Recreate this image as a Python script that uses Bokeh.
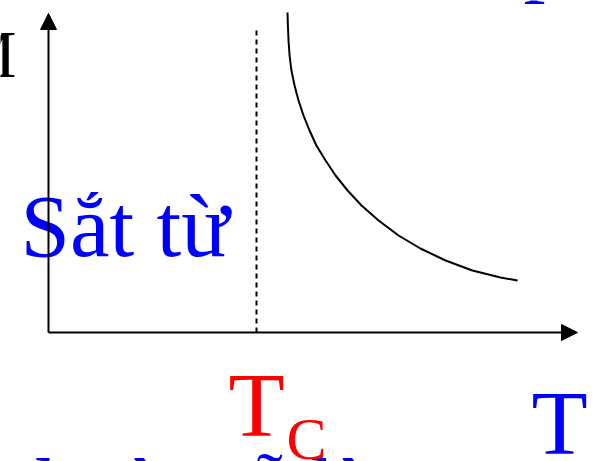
from bokeh.plotting import figure
from bokeh.models import Range1d, Arrow, NormalHead
from bokeh.core.properties import value
from bokeh.embed import file_html
from bokeh.resources import INLINE

# Magnetization M versus temperature T (T in units of the Curie temperature Tc)
Tc = 1.0
T_para = [1.149, 1.151, 1.154, 1.159, 1.168, 1.183, 1.202, 1.226, 1.255, 1.288, 1.332,
          1.380, 1.438, 1.505, 1.587, 1.683, 1.788, 1.909, 2.038, 2.173, 2.255]
M_para = [3.20, 3.07, 2.92, 2.77, 2.62, 2.47, 2.32, 2.17, 2.02, 1.87, 1.72,
          1.57, 1.42, 1.27, 1.12, 0.97, 0.84, 0.72, 0.62, 0.55, 0.52]

# Extent of the drawn axes (arrow tips) and of the dashed Tc marker
T_axis_end = 2.543
M_axis_end = 3.19
Tc_line_top = 3.04

# Texts on the slide
label_M = "M"
label_ferro = "Sắt từ"
label_T = "T"
label_Tc_main = "T"
label_Tc_sub = "C"
label_top = "pha"
label_bottom = "Chu trình từ trễ là"

# canvas geometry: origin of the axes and pixel scale
W, H = 604, 461
OX, OY = 48, 332
SX, SY = 208.0, 100.0
# the svg text anchor sits below the alphabetic baseline by this fraction of the size
BASE_SHIFT = 0.36


def dx(px):
    return (px - OX) / SX


def dy(py):
    return (OY - py) / SY


p = figure(width=W, height=H, x_range=Range1d(dx(0), dx(W)), y_range=Range1d(dy(H), dy(0)),
           output_backend="svg", toolbar_location=None, min_border=0,
           x_axis_type=None, y_axis_type=None)
p.grid.visible = False
p.outline_line_color = None
p.background_fill_color = "white"
p.border_fill_color = "white"

serif = value("Liberation Serif")


def put(text, px, baseline, size, color, align="left"):
    py = baseline - BASE_SHIFT * size
    p.text(x=[dx(px)], y=[dy(py)], text=[text], text_font=serif, text_font_size=f"{size}px",
           text_color=color, text_baseline="alphabetic", text_align=align)


# texts first so the axis lines sit on top of them
put(label_bottom, -256, 522, 88, "#0000FF")
put(label_top, 523, -13, 88, "#0000FF")
put(label_M, 16, 78, 68, "black", align="right")
put(label_ferro, 20, 258, 89, "#0000FF")
put(label_Tc_main, 228, 438, 92, "#FF0000")
put(label_Tc_sub, 286, 460, 60, "#FF0000")
put(label_T, 531, 456, 92, "#0000FF")

# dashed Curie temperature marker
p.line([Tc, Tc], [0, Tc_line_top], line_color="black", line_width=2, line_dash="5 4")

# paramagnetic branch above Tc
p.line(T_para, M_para, line_color="black", line_width=2)

# axes with arrow heads
p.add_layout(Arrow(end=NormalHead(size=16, fill_color="black", line_color="black", line_width=1),
                   x_start=0, y_start=0, x_end=T_axis_end, y_end=0,
                   line_color="black", line_width=2))
p.add_layout(Arrow(end=NormalHead(size=16, fill_color="black", line_color="black", line_width=1),
                   x_start=0, y_start=0, x_end=0, y_end=M_axis_end,
                   line_color="black", line_width=2))

open("out.html", "w").write(file_html(p, INLINE))
